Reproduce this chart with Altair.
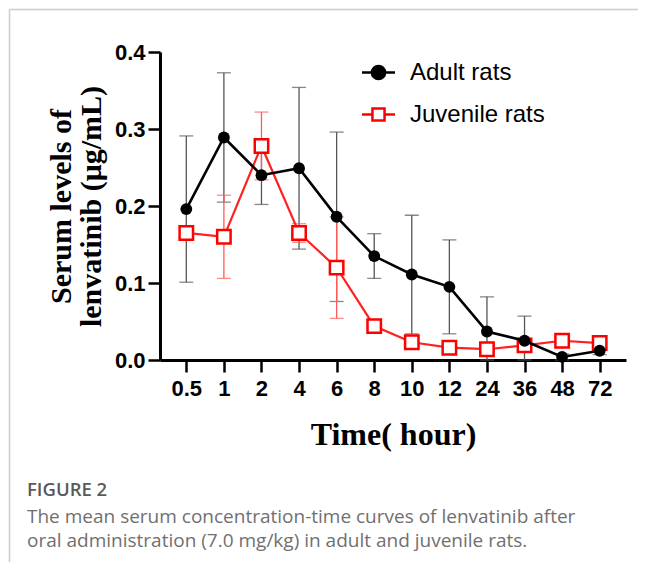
import altair as alt
import pandas as pd

times = ["0.5", "1", "2", "4", "6", "8", "10", "12", "24", "36", "48", "72"]
series = ["Adult rats", "Juvenile rats"]
adult_mean = [0.196, 0.289, 0.240, 0.249, 0.186, 0.135, 0.111, 0.095, 0.037, 0.025, 0.004, 0.012]
adult_sd = [0.095, 0.084, 0.038, 0.105, 0.110, 0.029, 0.077, 0.061, 0.045, 0.032, 0.004, 0.005]
juv_mean = [0.165, 0.160, 0.278, 0.165, 0.120, 0.044, 0.023, 0.016, 0.014, 0.019, 0.025, 0.022]
juv_sd = [0.006, 0.054, 0.044, 0.012, 0.066, 0.005, 0.004, 0.004, 0.003, 0.004, 0.004, 0.004]
y_ticks = [0.0, 0.1, 0.2, 0.3, 0.4]
y_title = ["Serum levels of", "lenvatinib (μg/mL)"]
x_title = "Time( hour)"
fig_label = "FIGURE 2"
caption = [
    "The mean serum concentration-time curves of lenvatinib after",
    "oral administration (7.0 mg/kg) in adult and juvenile rats.",
]


def frame(mean, sd, name):
    df = pd.DataFrame({"time": times, "mean": mean, "sd": sd})
    df["lo"] = (df["mean"] - df["sd"]).clip(lower=0)
    df["hi"] = df["mean"] + df["sd"]
    df["series"] = name
    return df


adult = frame(adult_mean, adult_sd, series[0])
juv = frame(juv_mean, juv_sd, series[1])
both = pd.concat([adult, juv], ignore_index=True)

xenc = alt.X(
    "time:N",
    sort=times,
    scale=alt.Scale(type="point", padding=0.7),
    axis=alt.Axis(title=x_title, labelAngle=0),
)
yaxis = alt.Axis(title=y_title, values=y_ticks, format=".1f", grid=False)
yscale = alt.Scale(domain=[0, 0.4], nice=False, zero=True)


def Y(field):
    return alt.Y(field, type="quantitative", scale=yscale, axis=yaxis)


def errlayers(df, color):
    base = alt.Chart(df)
    rule = base.mark_rule(color=color, strokeWidth=1.3).encode(x=xenc, y=Y("lo"), y2="hi")
    cap_hi = base.mark_tick(color=color, thickness=1.3, size=14, orient="horizontal").encode(x=xenc, y=Y("hi"))
    cap_lo = base.mark_tick(color=color, thickness=1.3, size=14, orient="horizontal").encode(x=xenc, y=Y("lo"))
    return [rule, cap_hi, cap_lo]


adult_err = errlayers(adult, "#555555")
juv_err = errlayers(juv, "#ff5a5a")

juv_line = alt.Chart(juv).mark_line(color="#ff2020", strokeWidth=2.2).encode(x=xenc, y=Y("mean"))
juv_pts = alt.Chart(juv).mark_point(
    shape="square", size=180, fill="white", stroke="#ff0000", strokeWidth=2.5, opacity=1, filled=False
).encode(x=xenc, y=Y("mean"))
adult_line = alt.Chart(adult).mark_line(color="black", strokeWidth=2.6).encode(x=xenc, y=Y("mean"))
adult_pts = alt.Chart(adult).mark_circle(color="black", size=140, opacity=1).encode(x=xenc, y=Y("mean"))

circle_path = "M-1.5,0H1.5M0.6,0A0.6,0.6 0 1,1 -0.6,0A0.6,0.6 0 1,1 0.6,0Z"
square_path = "M-1.5,0H-0.55M0.55,0H1.5M-0.55,-0.55H0.55V0.55H-0.55Z"

leg = alt.Legend(
    orient="none", legendX=206, legendY=8, title=None, padding=0,
    labelFont="Liberation Sans", labelFontSize=24, labelColor="black",
    symbolSize=484, symbolStrokeWidth=2.5, labelOffset=19, rowPadding=17,
    labelLimit=300,
)
legend_layer = alt.Chart(both).transform_filter("datum.mean < -1").mark_point(
    filled=False, opacity=1, strokeWidth=2.5
).encode(
    stroke=alt.Stroke("series:N", scale=alt.Scale(domain=series, range=["black", "#ff0000"]), legend=leg),
    fill=alt.Fill("series:N", scale=alt.Scale(domain=series, range=["black", "white"]), legend=leg),
    shape=alt.Shape("series:N", scale=alt.Scale(domain=series, range=[circle_path, square_path]), legend=leg),
)


def text_layer(txt, y, size, weight, color):
    return alt.Chart(pd.DataFrame({"t": [txt]})).mark_text(
        align="left", baseline="middle", font="Open Sans", fontSize=size, fontWeight=weight, color=color
    ).encode(x=alt.value(-133), y=alt.value(y), text="t:N")


cap_layers = [
    text_layer(fig_label, 438, 18.5, 600, "#5a5a5a"),
    text_layer(caption[0], 465, 19, 400, "#707070"),
    text_layer(caption[1], 489, 19, 400, "#707070"),
]

one = pd.DataFrame({"k": [0]})
border_left = alt.Chart(one).mark_rule(color="#cccccc", strokeWidth=1.5).encode(
    x=alt.value(-150.5), y=alt.value(-42.5), y2=alt.value(520)
)
border_top = alt.Chart(one).mark_rule(color="#cccccc", strokeWidth=1.5).encode(
    x=alt.value(-150.5), x2=alt.value(480), y=alt.value(-42.5)
)

chart = alt.layer(
    border_left, border_top,
    *adult_err, *juv_err,
    juv_line, juv_pts, adult_line, adult_pts,
    legend_layer, *cap_layers,
).properties(
    width=466, height=308,
    autosize=alt.AutoSizeParams(type="none"),
    padding={"left": 152, "top": 44, "right": 12, "bottom": 202},
).configure_view(strokeWidth=0).configure_axis(
    domainColor="black", domainWidth=3, tickColor="black", tickWidth=2.5, tickSize=12,
    labelFont="Liberation Sans", labelFontWeight="bold", labelFontSize=22, labelColor="black",
    titleFont="Liberation Serif", titleFontWeight="bold", titleColor="black",
).configure_axisY(
    labelPadding=3, titleFontSize=30, titlePadding=8, titleLineHeight=30,
).configure_axisX(
    labelPadding=6, titleFontSize=32, titlePadding=20,
)

chart.save("out.html", embed_options={"renderer": "svg", "actions": False})
